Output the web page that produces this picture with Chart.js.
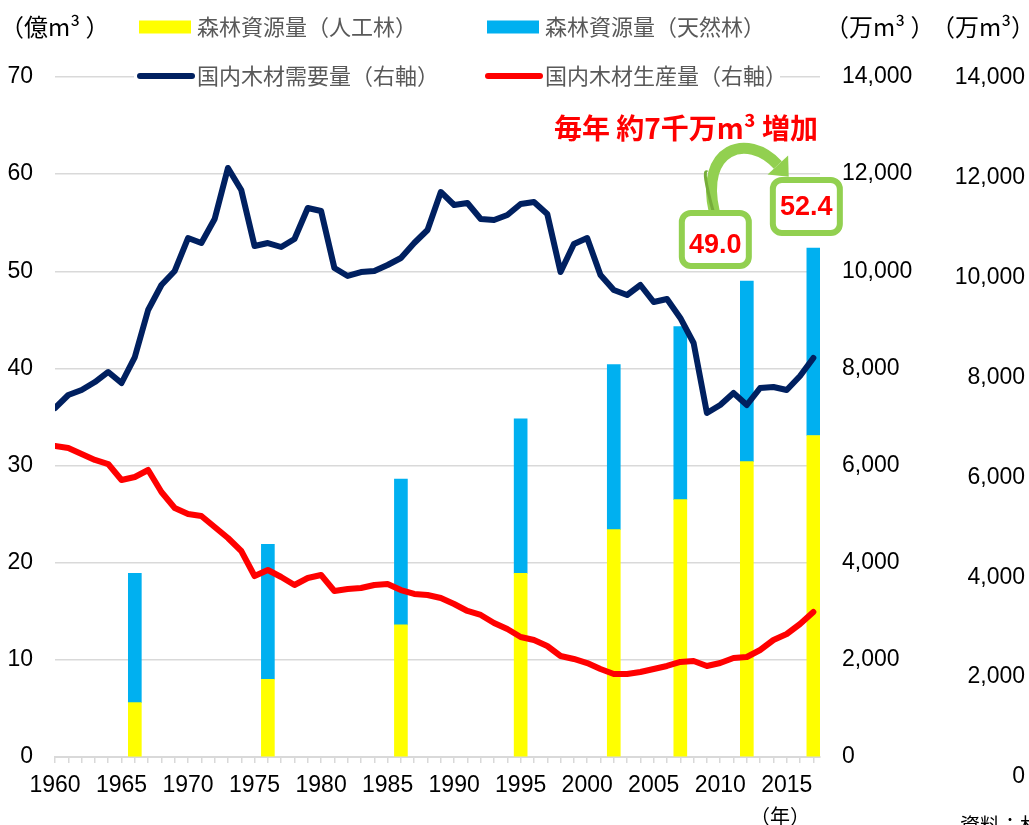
<!DOCTYPE html>
<html>
<head>
<meta charset="utf-8">
<script src="https://cdn.jsdelivr.net/npm/chart.js@4/dist/chart.umd.min.js"></script>
<style>
  html, body { margin: 0; padding: 0; background: #fff; }
  #wrap { position: relative; width: 1029px; height: 825px; }
</style>
</head>
<body>
<div id="wrap"><canvas id="chart"></canvas></div>
<script>
// 年（折れ線のカテゴリ）
const years = [
  1960, 1961, 1962, 1963, 1964, 1965, 1966, 1967, 1968, 1969,
  1970, 1971, 1972, 1973, 1974, 1975, 1976, 1977, 1978, 1979,
  1980, 1981, 1982, 1983, 1984, 1985, 1986, 1987, 1988, 1989,
  1990, 1991, 1992, 1993, 1994, 1995, 1996, 1997, 1998, 1999,
  2000, 2001, 2002, 2003, 2004, 2005, 2006, 2007, 2008, 2009,
  2010, 2011, 2012, 2013, 2014, 2015, 2016, 2017
];

// 国内木材需要量（万m3, 右軸）
const demand = [
  7185, 7453, 7556, 7720, 7927, 7700, 8235, 9203, 9718, 10006,
  10685, 10582, 11077, 12127, 11674, 10521, 10582, 10500, 10665, 11303,
  11241, 10068, 9903, 9985, 10006, 10130, 10274, 10582, 10850, 11633,
  11365, 11406, 11077, 11056, 11159, 11386, 11427, 11180, 9985, 10562,
  10685, 9924, 9615, 9512, 9718, 9368, 9430, 9039, 8524, 7083,
  7247, 7494, 7247, 7597, 7618, 7556, 7844, 8215
];

// 国内木材生産量（万m3, 右軸）
const production = [
  6403, 6362, 6238, 6115, 6032, 5703, 5765, 5909, 5456, 5127,
  5003, 4962, 4735, 4509, 4241, 3726, 3850, 3706, 3541, 3685,
  3747, 3418, 3459, 3479, 3541, 3562, 3438, 3356, 3335, 3274,
  3150, 3006, 2924, 2759, 2635, 2471, 2409, 2285, 2079, 2018,
  1935, 1812, 1709, 1709, 1750, 1812, 1874, 1956, 1977, 1874,
  1935, 2038, 2059, 2203, 2409, 2532, 2738, 2985
];

// 森林資源量（億m3, 左軸）
const stockYears   = [1966, 1976, 1986, 1995, 2002, 2007, 2012, 2017];
const plantedStock = [5.6, 8.0, 13.6, 18.9, 23.4, 26.5, 30.4, 33.1];
const naturalStock = [13.3, 13.9, 15.0, 15.9, 17.0, 17.8, 18.6, 19.3];

// 目盛り
const xLabelYears  = [1960, 1965, 1970, 1975, 1980, 1985, 1990, 1995, 2000, 2005, 2010, 2015];
const leftTicks    = [0, 10, 20, 30, 40, 50, 60, 70];
const rightTicks   = [0, 2000, 4000, 6000, 8000, 10000, 12000, 14000];

const seriesNames = ['森林資源量（人工林）', '森林資源量（天然林）', '国内木材需要量（右軸）', '国内木材生産量（右軸）'];

const TICK_FONT = { family: '"Liberation Sans", Arial, sans-serif', size: 23 };
const JP = '"Noto Sans CJK JP", "Noto Sans", sans-serif';

function toTicks(list) {
    return (scale) => { scale.ticks = list.map(v => ({ value: v })); };
}

// 凡例・単位・注記を描く
const overlay = {
    id: 'overlay',
    afterDraw(chart) {
        const { ctx, scales: { x, y } } = chart;
        ctx.save();

        // 単位
        ctx.font = '24px ' + JP;
        ctx.fillStyle = '#000';
        ctx.textBaseline = 'middle';
        ctx.textAlign = 'left';
        ctx.fillText('（億m³ ）', 0, 27);
        ctx.fillText('（万m³ ）', 825, 27);
        ctx.fillText('（万m³）', 931, 27);

        // 凡例
        ctx.fillStyle = '#fff';
        ctx.fillRect(134, 62, 646, 28);
        const spots = [[139, 27], [487, 27], [139, 76], [487, 76]];
        chart.data.datasets.forEach((ds, i) => {
            const [lx, ly] = spots[i];
            if (ds.type === 'bar') {
                ctx.fillStyle = ds.backgroundColor;
                ctx.fillRect(lx, ly - 6.5, 52, 13);
            } else {
                ctx.strokeStyle = ds.borderColor;
                ctx.lineWidth = 6;
                ctx.lineCap = 'round';
                ctx.beginPath();
                ctx.moveTo(lx + 1, ly);
                ctx.lineTo(lx + 53, ly);
                ctx.stroke();
            }
            ctx.fillStyle = '#595959';
            ctx.font = '22px ' + JP;
            ctx.fillText(ds.label, lx + 58, ly);
        });

        // 年
        ctx.fillStyle = '#000';
        ctx.font = '20px ' + JP;
        ctx.textAlign = 'center';
        ctx.fillText('（年）', 780, 816);
        ctx.textAlign = 'left';
        ctx.textBaseline = 'top';
        ctx.fillText('資料：林野庁「木材需給表」', 960, 815);

        // 増加の注記
        ctx.fillStyle = '#ff0000';
        ctx.font = 'bold 28px ' + JP;
        ctx.textAlign = 'center';
        ctx.textBaseline = 'middle';
        ctx.fillText('毎年 約7千万m³ 増加', 686, 128);

        // 数値ボックス
        const n = stockYears.length;
        const boxes = [[n - 2, -31.5, 36], [n - 1, -7, 31]].map(([i, dx, ty]) => {
            const total = plantedStock[i] + naturalStock[i];
            const cx = x.getPixelForValue(stockYears[i]) + dx;
            const bottom = y.getPixelForValue(total) - 12;
            return { cx, left: cx - 36.5, top: bottom - 59, w: 73, h: 59, ty, text: total.toFixed(1) };
        });

        // 矢印
        const [b1, b2] = boxes;
        const sx = b1.cx - 1, sy = b1.top + 2;
        const ex = b2.left + 8, ey = b2.top - 12;
        const c1x = b1.cx - 16, c1y = b1.top - 62;
        const c2x = b1.cx + 32, c2y = b1.top - 78;
        ctx.strokeStyle = '#92d050';
        ctx.lineWidth = 11;
        ctx.lineCap = 'butt';
        ctx.beginPath();
        ctx.moveTo(sx, sy);
        ctx.bezierCurveTo(c1x, c1y, c2x, c2y, ex, ey);
        ctx.stroke();
        ctx.strokeStyle = '#76ad3a';
        ctx.lineWidth = 3;
        ctx.beginPath();
        ctx.moveTo(sx - 1, sy);
        ctx.quadraticCurveTo(c1x + 2, c1y + 20, b1.cx - 8, b1.top - 38);
        ctx.stroke();
        const ang = Math.atan2(ey - c2y, ex - c2x);
        const tipX = ex + Math.cos(ang) * 16, tipY = ey + Math.sin(ang) * 16;
        ctx.fillStyle = '#92d050';
        ctx.beginPath();
        ctx.moveTo(tipX, tipY);
        ctx.lineTo(ex - Math.sin(ang) * 14, ey + Math.cos(ang) * 14);
        ctx.lineTo(ex + Math.sin(ang) * 14, ey - Math.cos(ang) * 14);
        ctx.closePath();
        ctx.fill();

        boxes.forEach(b => {
            ctx.fillStyle = '#fff';
            ctx.strokeStyle = '#92d050';
            ctx.lineWidth = 6;
            ctx.beginPath();
            ctx.roundRect(b.left + 3, b.top + 3, b.w - 6, b.h - 6, 9);
            ctx.fill();
            ctx.stroke();
            ctx.fillStyle = '#ff0000';
            ctx.font = 'bold 27px "Liberation Sans", Arial, sans-serif';
            ctx.textAlign = 'center';
            ctx.textBaseline = 'middle';
            ctx.fillText(b.text, b.cx, b.top + b.ty);
        });

        ctx.restore();
    }
};

const ctx = document.getElementById('chart').getContext('2d');

new Chart(ctx, {
    type: 'bar',
    data: {
        datasets: [
            {
                type: 'bar',
                label: seriesNames[0],
                data: stockYears.map((yr, i) => ({ x: yr, y: plantedStock[i] })),
                backgroundColor: '#ffff00',
                yAxisID: 'y',
                stack: 'stock',
                barThickness: 13,
                order: 2,
            },
            {
                type: 'bar',
                label: seriesNames[1],
                data: stockYears.map((yr, i) => ({ x: yr, y: naturalStock[i] })),
                backgroundColor: '#00b0f0',
                yAxisID: 'y',
                stack: 'stock',
                barThickness: 13,
                order: 2,
            },
            {
                type: 'line',
                label: seriesNames[2],
                data: years.map((yr, i) => ({ x: yr, y: demand[i] })),
                borderColor: '#002060',
                borderWidth: 6,
                pointRadius: 0,
                tension: 0,
                borderJoinStyle: 'round',
                borderCapStyle: 'round',
                yAxisID: 'y2',
                order: 1,
            },
            {
                type: 'line',
                label: seriesNames[3],
                data: years.map((yr, i) => ({ x: yr, y: production[i] })),
                borderColor: '#ff0000',
                borderWidth: 6,
                pointRadius: 0,
                tension: 0,
                borderJoinStyle: 'round',
                borderCapStyle: 'round',
                yAxisID: 'y2',
                order: 1,
            },
        ],
    },
    options: {
        responsive: true,
        maintainAspectRatio: false,
        animation: false,
        layout: { padding: { top: 77, right: 4, left: 0, bottom: 0 } },
        plugins: {
            legend: { display: false },
            tooltip: { enabled: false },
        },
        scales: {
            x: {
                type: 'linear',
                offset: false,
                min: 1960,
                max: 2017.5,
                afterBuildTicks: toTicks(years),
                afterFit: (s) => { s.height = 68; },
                ticks: {
                    autoSkip: false,
                    maxRotation: 0,
                    padding: 9,
                    color: '#000',
                    font: TICK_FONT,
                    callback: (v) => xLabelYears.includes(v) ? String(v) : '',
                },
                grid: { offset: false, drawOnChartArea: false, color: '#d9d9d9', tickLength: 6, lineWidth: 1.5 },
                border: { display: true, color: '#d9d9d9', width: 2 },
            },
            y: {
                position: 'left',
                stacked: true,
                min: 0,
                max: 70,
                afterBuildTicks: toTicks(leftTicks),
                afterFit: (s) => { s.width = 55; },
                ticks: { padding: 22, color: '#000', font: TICK_FONT, autoSkip: false },
                grid: { color: '#d9d9d9', lineWidth: 1.5, drawTicks: false },
                border: { display: false },
            },
            y2: {
                position: 'right',
                min: 0,
                max: 14000,
                afterBuildTicks: toTicks(rightTicks),
                afterFit: (s) => { s.width = 130; },
                ticks: {
                    padding: 22, color: '#000', font: TICK_FONT, autoSkip: false,
                    callback: (v) => v.toLocaleString('en-US'),
                },
                grid: { display: false, drawTicks: false },
                border: { display: false },
            },
            y3: {
                position: 'right',
                min: 400,
                max: 14020,
                afterBuildTicks: toTicks(rightTicks),
                afterFit: (s) => { s.width = 75; },
                ticks: {
                    padding: 8, color: '#000', font: TICK_FONT, autoSkip: false, crossAlign: 'far',
                    callback: (v) => v.toLocaleString('en-US'),
                },
                grid: { display: false, drawTicks: false },
                border: { display: false },
            },
        },
    },
    plugins: [overlay],
});
</script>
</body>
</html>
